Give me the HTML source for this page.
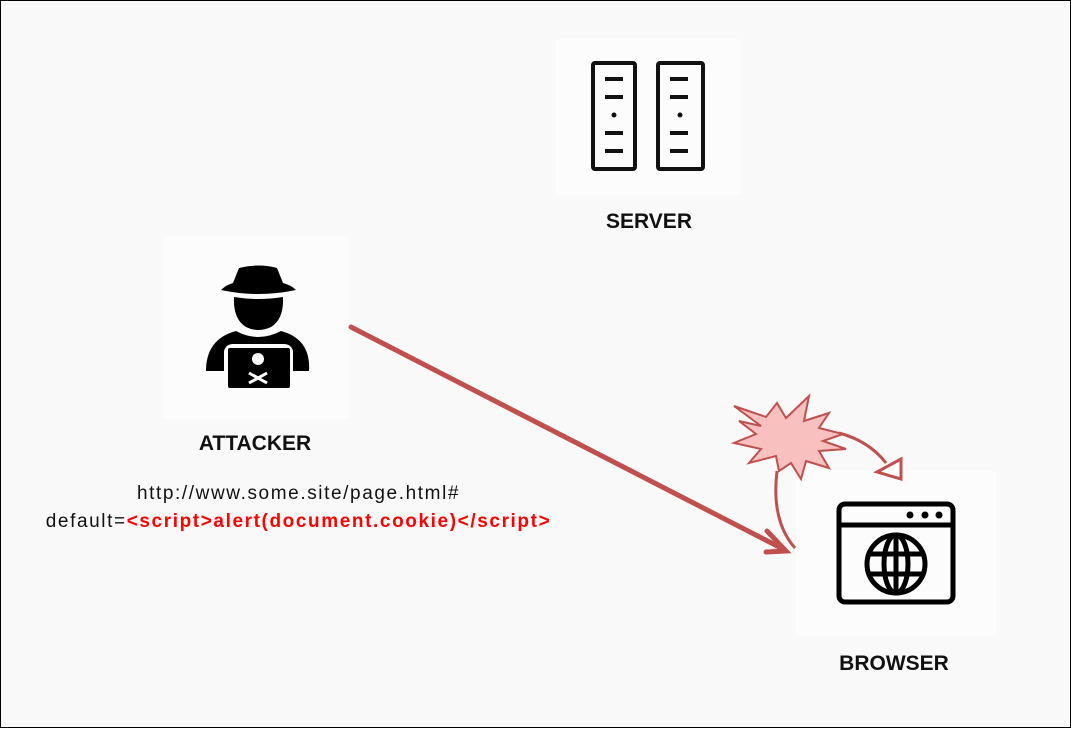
<!DOCTYPE html>
<html><head><style>
body{margin:0;width:1071px;height:728px;overflow:hidden;font-family:"Liberation Sans",sans-serif}
.f{position:absolute;left:0;top:0;width:1069px;height:726px;border:1px solid #000;background:#f9f9f9}
.t{position:absolute;font-weight:bold;font-size:21px;color:#111;text-align:center}
</style></head><body><div class="f">
<svg width="1071" height="728" style="position:absolute;left:0;top:0">
<rect x="555" y="38" width="185" height="155" fill="#fcfcfc"/>
<rect x="162" y="235" width="186" height="182" fill="#fcfcfc"/>
<rect x="795" y="470" width="200" height="165" fill="#fcfcfc"/>
<g fill="none" stroke="#111" stroke-width="4">
<rect x="592" y="62" width="42" height="106" rx="2"/>
<rect x="657" y="62" width="45" height="106" rx="2"/>
<path d="M604 78h18M604 96h18M604 132h18M604 150h18M669 78h18M669 96h18M669 132h18M669 150h18"/>
</g>
<circle cx="613" cy="114" r="2.5" fill="#111"/><circle cx="679" cy="114" r="2.5" fill="#111"/>
<g fill="#000">
<path d="M220 289 Q257 297 295 289 Q290 284 282 282 L276 267 Q258 262 238 267 L232 282 Q225 284 220 289Z"/>
<path d="M233 296 Q257 300 282 296 Q283 318 270 326 Q257 332 245 326 Q232 318 233 296Z"/>
<path d="M205 370 Q205 338 235 330 Q257 342 280 330 Q310 338 308 370 L292 370 L292 350 Q290 343 283 343 L232 343 Q225 343 223 350 L223 370Z"/>
<rect x="227" y="347" width="62" height="40" rx="2"/>
</g>
<g fill="#fff"><circle cx="257" cy="358" r="6"/><path d="M248 372l18 10M266 372l-18 10" stroke="#fff" stroke-width="3"/></g>
<g fill="none" stroke="#000" stroke-width="5">
<rect x="838" y="503" width="114" height="98" rx="6"/>
<path d="M838 524h114"/>
<circle cx="895" cy="563" r="29"/>
<ellipse cx="895" cy="563" rx="12" ry="29"/>
<path d="M895 534v58M867 553h56M867 573h56"/>
</g>
<circle cx="909" cy="514" r="3.5"/><circle cx="924" cy="514" r="3.5"/><circle cx="938" cy="514" r="3.5"/>
<g fill="none" stroke="#c0504d" stroke-width="5" stroke-linecap="round">
<path d="M350 326 L782 548"/>
<path d="M766 530 L785 550 L765 551"/>
</g>
<g fill="none" stroke="#c0504d" stroke-width="3">
<path d="M776 470 Q770 520 794 547"/>
<path d="M838 432 Q868 440 885 462"/>
<path d="M876 471 L900 458 L900 478Z" fill="#fff"/>
</g>
<path d="M733 405 L765 416 L776 402 L785 417 L808 395 L803 420 L828 412 L818 427 L842 433 L822 440 L845 448 L818 450 L828 467 L805 460 L800 478 L790 462 L778 470 L775 455 L748 462 L760 448 L733 442 L755 433 L738 420 L760 425Z" fill="#f9c0c0" stroke="#c0504d" stroke-width="2"/>
</svg>
<div class="t" style="left:548px;top:209px;width:200px">SERVER</div>
<div class="t" style="left:154px;top:431px;width:200px">ATTACKER</div>
<div class="t" style="left:793px;top:651px;width:200px">BROWSER</div>
<div style="position:absolute;left:0px;top:479px;width:595px;text-align:center;font-size:19px;letter-spacing:1.6px;line-height:28px;color:#111;white-space:nowrap">http://www.some.site/page.html#<br>default=<b style="color:#f00">&lt;script&gt;alert(document.cookie)&lt;/script&gt;</b></div>
</div></body></html>
